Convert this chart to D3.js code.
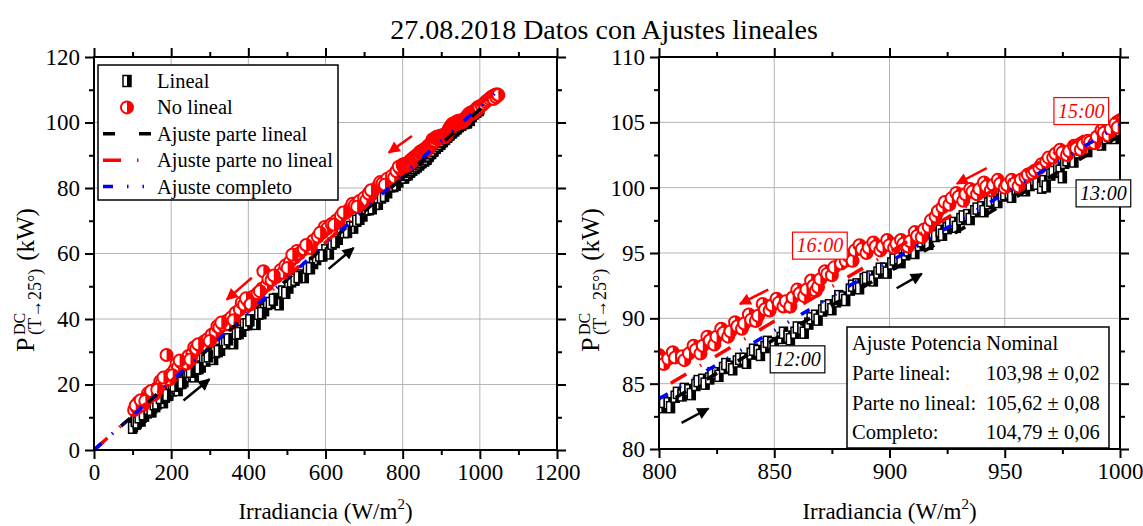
<!DOCTYPE html>
<html>
<head>
<meta charset="utf-8">
<script src="https://cdn.jsdelivr.net/npm/d3@7"></script>
<style>
  body { margin: 0; background: #fff; }
  svg text { font-family: "Liberation Serif", "Times New Roman", serif; fill: #000; }
</style>
</head>
<body>
<svg id="chart" width="1143" height="526"></svg>
<script>
// ---- data ----
// Lineal: irradiancia (W/m2) y potencia (kW)
var linealG = [102,105,109,110,114,119,122,125,131,135,138,145,150,152,160,165,168,176,180,185,194,198,203,213,218,223,233,240,244,255,260,266,278,284,290,302,310,315,328,335,341,355,362,369,383,390,397,412,420,427,442,450,457,473,480,489,505,512,521,537,545,553,569,577,585,601,610,617,633,641,649,665,673,681,697,705,713,729,737,745,761,769,777,790,
  100,107,112,117,128,141,148,156,163,172,189,208,228,250,272,296,322,348,376,404,435,465,497,529,561,593,625,657,689,721,753,783,
  801,802,804,805,807,808,810,811,813,814,816,817,819,820,822,823,825,826,828,829,831,832,834,835,837,838,840,841,843,844,846,847,849,850,853,854,856,857,859,860,862,863,865,866,868,869,871,872,874,875,877,878,880,881,883,884,886,887,889,890,892,893,895,896,898,899,901,902,904,905,907,908,910,911,913,914,916,917,919,920,922,923,925,926,928,929,931,932,934,935,937,938,940,941,943,944,946,947,949,950,952,953,955,956,958,959,961,962,963,964,966,967,968,970,971,973,974,975,976,977,979,980,982,983,985,986,988,989,991,992,994,995,997,998,1000];
var linealP = [7.3,8.2,8.0,9.5,9.0,9.2,9.0,10.2,10.5,12.2,11.5,11.9,11.8,13.0,13.4,15.6,14.6,15.0,14.6,16.3,16.9,18.5,18.2,18.9,18.3,20.4,21.0,23.0,22.6,23.2,22.5,24.8,25.5,27.9,27.3,28.0,27.8,29.9,30.6,32.8,32.6,33.4,32.6,35.5,36.4,38.3,38.4,39.5,38.5,41.6,42.7,44.6,44.9,46.1,44.5,48.4,49.6,51.5,52.0,53.3,52.8,55.6,57.1,58.3,59.4,61.0,60.0,63.0,64.5,66.8,66.5,68.1,67.9,70.0,71.6,73.4,73.5,75.1,75.2,77.1,78.7,80.5,80.6,82.0,
  6.8,8.9,8.4,10.0,10.9,12.6,12.3,14.0,14.2,15.9,16.8,19.6,20.5,23.9,25.0,28.6,30.2,33.8,35.7,39.6,41.8,45.9,48.0,52.8,55.5,59.4,63.5,66.6,70.6,73.8,77.6,81.0,
  83.2,83.6,83.5,83.2,84.0,84.3,84.1,84.6,84.5,84.2,84.9,85.2,85.3,85.0,85.4,85.8,85.8,85.6,86.2,86.5,86.3,86.1,86.7,86.9,86.9,86.6,87.3,87.6,87.5,87.2,87.8,88.2,88.1,87.9,88.5,88.9,88.6,88.4,88.9,89.3,89.2,88.9,89.6,90.0,90.2,89.9,90.6,90.9,91.0,90.7,91.3,91.7,91.6,91.4,92.2,92.5,92.6,92.3,93.0,93.1,93.2,92.9,93.5,93.8,93.8,93.5,94.2,94.5,94.6,94.3,94.9,95.2,95.3,95.0,95.6,95.9,96.0,95.7,96.5,96.3,96.7,96.4,96.9,97.2,97.3,97.0,97.6,97.8,97.9,97.6,98.2,98.4,98.5,98.2,98.8,99.0,99.1,98.9,99.4,99.5,99.6,99.3,99.9,100.0,100.1,99.8,100.2,100.9,100.6,100.3,100.0,100.5,100.1,101.0,101.2,101.5,101.3,100.8,101.9,102.1,102.3,102.0,102.7,102.9,103.0,102.8,103.4,103.5,103.6,103.3,103.8,104.0,104.1,103.8,104.3];

// No lineal
var noLinealG = [104,112,115,118,124,128,130,137,140,144,152,156,160,168,172,176,184,188,192,196,200,209,214,218,227,236,240,245,255,260,265,275,285,290,295,305,315,320,325,335,345,350,356,367,378,383,389,400,412,418,424,436,439,448,452,460,472,484,490,496,508,520,526,532,544,556,562,568,580,592,598,604,616,628,634,640,652,664,670,676,688,700,706,712,724,736,742,748,760,772,778,784,794,
  108,121,133,148,164,180,204,222,250,270,300,330,362,394,406,430,466,502,514,550,586,622,646,682,718,754,790,
  800,801,802,804,806,807,810,811,813,815,816,818,819,821,822,824,825,827,828,830,831,833,834,836,837,839,840,842,843,845,846,848,849,851,852,854,855,857,858,860,861,863,864,866,867,868,869,870,872,873,875,876,878,879,881,882,884,885,887,888,890,891,893,894,896,897,899,900,902,903,905,906,908,909,911,912,914,915,917,918,920,921,923,924,926,927,929,930,932,933,935,936,938,939,941,942,944,945,947,948,950,951,953,954,956,957,959,960,962,963,965,966,968,969,971,972,974,975,977,978,980,981,983,984,986,987,989,990,992,993,995,996,998,999,1005,1010,1015,1020,1025,1030,1035,1036,1040,1042,1045,1048];
var noLinealP = [12.2,12.8,14.6,13.9,14.0,13.8,15.2,15.6,17.3,16.8,17.5,16.9,18.6,19.3,21.0,20.5,21.2,29.0,22.4,21.6,23.2,24.5,26.3,25.3,26.6,27.4,26.4,28.7,29.5,31.4,30.9,31.8,33.1,32.1,33.9,35.2,36.0,37.8,37.4,38.2,39.5,38.3,40.5,41.9,42.9,45.0,44.4,45.3,46.8,46.0,47.9,49.3,54.6,50.4,52.2,51.9,52.8,55.0,54.1,56.3,57.5,58.8,60.8,60.0,61.3,62.5,61.7,63.9,65.1,66.4,68.1,67.6,69.0,70.1,69.6,71.5,72.4,73.8,75.2,74.7,76.0,77.0,76.3,78.3,79.2,80.5,81.8,81.5,82.8,83.7,83.2,85.1,85.9,
  13.6,15.2,15.0,18.0,18.4,22.1,22.8,27.3,27.6,32.3,33.3,38.9,39.6,46.3,44.5,48.5,53.3,55.6,59.6,62.6,66.3,68.8,72.5,74.3,79.3,81.0,86.5,
  87.2,86.8,86.5,86.9,87.4,87.0,87.1,86.8,87.3,87.9,87.6,87.3,87.9,88.6,88.3,88.0,88.6,89.2,88.9,88.6,89.0,89.7,89.4,89.2,89.6,90.3,89.9,89.8,90.2,91.1,90.7,90.6,91.0,91.5,91.2,90.9,91.3,90.9,91.6,92.2,91.9,91.7,92.2,92.9,92.5,92.1,92.4,93.0,93.6,93.4,93.3,93.9,94.9,94.2,94.4,94.8,94.4,95.2,95.6,95.3,95.0,95.4,95.8,95.5,95.2,95.5,96.0,95.6,95.4,95.7,96.0,95.7,95.5,95.9,96.6,96.3,96.2,96.8,97.0,97.5,97.8,98.2,98.5,98.9,98.7,99.2,99.6,99.3,99.0,99.5,99.9,99.7,99.5,99.9,100.4,100.1,99.8,100.2,100.6,100.3,100.0,100.2,100.6,100.3,100.1,100.6,100.8,101.0,101.1,101.3,101.5,101.8,102.0,102.3,102.3,102.6,102.9,102.7,102.5,102.8,103.2,103.0,102.9,103.3,103.6,103.5,103.4,103.9,104.4,104.2,104.0,104.5,104.9,104.6,105.2,105.7,106.3,106.8,107.3,107.8,108.2,107.2,108.5,107.8,108.6,108.4];

// ajustes: potencia nominal (kW a 1000 W/m2) e incertidumbre
var fitNames = ['Ajuste parte lineal', 'Ajuste parte no lineal', 'Ajuste completo'];
var fitValues = [103.98, 105.62, 104.79];
var fitErrors = [0.02, 0.08, 0.06];
var tableLabels = ['Parte lineal:', 'Parte no lineal:', 'Completo:'];

// anotaciones (coordenadas de datos del panel derecho)
var timeLabels = ['12:00', '13:00', '15:00', '16:00'];
var timeG = [860.1, 992.8, 983.2, 869.8];
var timeP = [86.9, 99.6, 105.9, 95.6];
var timeColor = ['black', 'black', 'red', 'red'];

var arrowsLeft = [
  { from: [824, 95.9], to: [764, 90.8], color: 'red' },
  { from: [409, 52.6], to: [344, 45.9], color: 'red' },
  { from: [608, 55.3], to: [673, 61.7], color: 'black' },
  { from: [232, 15.1], to: [299, 21.6], color: 'black' }
];
var arrowsRight = [
  { from: [942.2, 101.5], to: [929.2, 100.3], color: 'red' },
  { from: [847.4, 92.2], to: [835.1, 91.1], color: 'red' },
  { from: [903.1, 92.3], to: [914.0, 93.4], color: 'black' },
  { from: [809.8, 82.0], to: [821.4, 83.1], color: 'black' }
];

var lineal = linealG.map(function (g, i) { return { g: g, p: linealP[i] }; });
var noLineal = noLinealG.map(function (g, i) { return { g: g, p: noLinealP[i] }; });

var fitColors = ['#000000', '#ff0000', '#0000ff'];
var fitDash = ['12,24', '18,16,1.5,16', '10,14,1.5,14,1.5,14'];

var svg = d3.select('#chart');
var defs = svg.append('defs');

['red', 'black'].forEach(function (c) {
  defs.append('marker')
    .attr('id', 'arrow-' + c)
    .attr('viewBox', '0 0 10 10')
    .attr('refX', 9).attr('refY', 5)
    .attr('markerUnits', 'userSpaceOnUse')
    .attr('markerWidth', 14).attr('markerHeight', 12)
    .attr('orient', 'auto')
    .append('path')
    .attr('d', 'M0,0 L10,5 L0,10 z')
    .attr('fill', c === 'red' ? '#ff0000' : '#000');
});

// title
svg.append('text')
  .attr('x', 604).attr('y', 39)
  .attr('text-anchor', 'middle')
  .style('font-size', '28px')
  .text('27.08.2018 Datos con Ajustes lineales');

function drawSquare(sel) {
  sel.append('rect').attr('x', -4).attr('y', -5.5).attr('width', 8).attr('height', 11)
    .attr('fill', '#fff').attr('stroke', '#000').attr('stroke-width', 1.5);
  sel.append('rect').attr('x', 0).attr('y', -5.5).attr('width', 4).attr('height', 11)
    .attr('fill', '#000');
}

function drawCircle(sel) {
  sel.append('circle').attr('r', 6)
    .attr('fill', '#fff').attr('stroke', '#ff0000').attr('stroke-width', 2);
  sel.append('path').attr('d', 'M0,-6 A6,6 0 0 1 0,6 z').attr('fill', '#ff0000');
}

function panel(opt) {
  var x = d3.scaleLinear().domain(opt.xDomain).range([opt.left, opt.right]);
  var y = d3.scaleLinear().domain(opt.yDomain).range([opt.bottom, opt.top]);
  var g = svg.append('g');

  var clipId = 'clip-' + opt.name;
  defs.append('clipPath').attr('id', clipId)
    .append('rect')
    .attr('x', opt.left).attr('y', opt.top)
    .attr('width', opt.right - opt.left).attr('height', opt.bottom - opt.top);

  // grid
  var grid = g.append('g').attr('stroke', '#b4b4b4').attr('stroke-width', 1);
  grid.selectAll('.gx').data(opt.xMajor.slice(1, -1)).enter().append('line')
    .attr('x1', function (d) { return x(d); }).attr('x2', function (d) { return x(d); })
    .attr('y1', opt.top).attr('y2', opt.bottom);
  grid.selectAll('.gy').data(opt.yMajor.slice(1, -1)).enter().append('line')
    .attr('y1', function (d) { return y(d); }).attr('y2', function (d) { return y(d); })
    .attr('x1', opt.left).attr('x2', opt.right);

  var plot = g.append('g').attr('clip-path', 'url(#' + clipId + ')');

  plot.selectAll('.sq').data(lineal).enter().append('g')
    .attr('transform', function (d) { return 'translate(' + x(d.g) + ',' + y(d.p) + ')'; })
    .call(drawSquare);

  plot.selectAll('.ci').data(noLineal).enter().append('g')
    .attr('transform', function (d) { return 'translate(' + x(d.g) + ',' + y(d.p) + ')'; })
    .call(drawCircle);

  // fit lines P = Pnom * G / 1000
  fitValues.forEach(function (v, i) {
    var line = d3.line()
      .x(function (d) { return x(d); })
      .y(function (d) { return y(v * d / 1000); });
    plot.append('path')
      .datum([0, 1050])
      .attr('d', line)
      .attr('fill', 'none')
      .attr('stroke', fitColors[i])
      .attr('stroke-width', 3.5)
      .attr('stroke-dasharray', fitDash[i]);
  });

  // arrows
  opt.arrows.forEach(function (a) {
    g.append('line')
      .attr('x1', x(a.from[0])).attr('y1', y(a.from[1]))
      .attr('x2', x(a.to[0])).attr('y2', y(a.to[1]))
      .attr('stroke', a.color === 'red' ? '#ff0000' : '#000')
      .attr('stroke-width', 2.5)
      .attr('marker-end', 'url(#arrow-' + a.color + ')');
  });

  // frame
  g.append('rect')
    .attr('x', opt.left).attr('y', opt.top)
    .attr('width', opt.right - opt.left).attr('height', opt.bottom - opt.top)
    .attr('fill', 'none').attr('stroke', '#000').attr('stroke-width', 2);

  function ax(axisFn, scale, vals, size, labels, tr) {
    var a = axisFn(scale).tickValues(vals).tickSize(size).tickSizeOuter(0).tickPadding(5)
      .tickFormat(labels ? d3.format('d') : '');
    var s = g.append('g').attr('transform', tr).call(a);
    s.select('.domain').remove();
    s.selectAll('line').attr('stroke-width', 2);
    s.selectAll('text').style('font-size', '23px').style('font-family', '"Liberation Serif", serif');
    return s;
  }
  var b = 'translate(0,' + opt.bottom + ')', t = 'translate(0,' + opt.top + ')';
  var l = 'translate(' + opt.left + ',0)', r = 'translate(' + opt.right + ',0)';
  ax(d3.axisBottom, x, opt.xMajor, 9, true, b);
  ax(d3.axisBottom, x, opt.xMinor, 5, false, b);
  ax(d3.axisTop, x, opt.xMajor, 9, false, t);
  ax(d3.axisTop, x, opt.xMinor, 5, false, t);
  ax(d3.axisLeft, y, opt.yMajor, 9, true, l);
  ax(d3.axisLeft, y, opt.yMinor, 5, false, l);
  ax(d3.axisRight, y, opt.yMajor, 9, false, r);
  ax(d3.axisRight, y, opt.yMinor, 5, false, r);

  // x title
  var xt = g.append('text')
    .attr('x', (opt.left + opt.right) / 2).attr('y', 519)
    .attr('text-anchor', 'middle')
    .style('font-size', '23px');
  xt.append('tspan').text('Irradiancia (W/m');
  xt.append('tspan').attr('dy', -10).style('font-size', '15px').text('2');
  xt.append('tspan').attr('dy', 10).text(')');

  // y title, rotated
  var yt = g.append('g')
    .attr('transform', 'translate(' + (opt.left - 60) + ',352) rotate(-90)');
  yt.append('text').attr('x', 0).attr('y', 0).style('font-size', '26px').text('P');
  yt.append('text').attr('x', 17).attr('y', -9).style('font-size', '16px').text('DC');
  var sub = yt.append('text').attr('x', 17).attr('y', 7).style('font-size', '18px').text('(T\u219225\u00b0)');
  var sw = sub.node().getComputedTextLength();
  yt.append('text').attr('x', 17 + sw + 8).attr('y', 0).style('font-size', '25px').text('(kW)');

  return { x: x, y: y, g: g };
}

var left = panel({
  name: 'left', left: 94, right: 557, top: 57, bottom: 450,
  xDomain: [0, 1200], yDomain: [0, 120],
  xMajor: d3.range(0, 1201, 200), xMinor: d3.range(100, 1200, 200),
  yMajor: d3.range(0, 121, 20), yMinor: d3.range(10, 120, 20),
  arrows: arrowsLeft
});

var right = panel({
  name: 'right', left: 659, right: 1120, top: 57, bottom: 449,
  xDomain: [800, 1000], yDomain: [80, 110],
  xMajor: d3.range(800, 1001, 50), xMinor: d3.range(825, 1000, 50),
  yMajor: d3.range(80, 111, 5), yMinor: d3.range(82.5, 110, 5),
  arrows: arrowsRight
});

// legend (left panel)
var lg = svg.append('g');
lg.append('rect').attr('x', 98).attr('y', 65).attr('width', 240).attr('height', 135)
  .attr('fill', '#fff').attr('stroke', '#000').attr('stroke-width', 1.5);
var legendNames = ['Lineal', 'No lineal'].concat(fitNames);
legendNames.forEach(function (name, i) {
  var cy = 81 + i * 26.4;
  if (i === 0) lg.append('g').attr('transform', 'translate(127,' + cy + ')').call(drawSquare);
  else if (i === 1) lg.append('g').attr('transform', 'translate(127,' + cy + ')').call(drawCircle);
  else {
    lg.append('line').attr('x1', 103).attr('x2', 151).attr('y1', cy).attr('y2', cy)
      .attr('stroke', fitColors[i - 2]).attr('stroke-width', 3.5)
      .attr('stroke-dasharray', fitDash[i - 2]);
  }
  lg.append('text').attr('x', 157).attr('y', cy + 7).style('font-size', '20.5px').text(name);
});

// time labels (right panel)
var clipTL = right.g.append('g');
timeLabels.forEach(function (t, i) {
  var col = timeColor[i] === 'red' ? '#ff0000' : '#000';
  var cx = right.x(timeG[i]), cy = right.y(timeP[i]);
  var tg = clipTL.append('g');
  var txt = tg.append('text').attr('x', cx).attr('y', cy + 7)
    .attr('text-anchor', 'middle')
    .style('font-size', '20px').style('font-style', 'italic').style('fill', col)
    .text(t);
  var bb = txt.node().getBBox();
  tg.insert('rect', 'text')
    .attr('x', bb.x - 4).attr('y', cy - 13).attr('width', bb.width + 8).attr('height', 27)
    .attr('fill', '#fff').attr('stroke', col).attr('stroke-width', 1.2);
});

// table (right panel)
var tb = svg.append('g');
tb.append('rect').attr('x', 847).attr('y', 327).attr('width', 262).attr('height', 121)
  .attr('fill', '#fff').attr('stroke', '#000').attr('stroke-width', 1.5);
tb.append('text').attr('x', 852).attr('y', 350).style('font-size', '20.5px').text('Ajuste Potencia Nominal');
tableLabels.forEach(function (lab, i) {
  var yy = 380 + i * 29.5;
  tb.append('text').attr('x', 852).attr('y', yy).style('font-size', '20.5px').text(lab);
  tb.append('text').attr('x', 986).attr('y', yy).style('font-size', '20.5px')
    .text(fitValues[i].toFixed(2).replace('.', ',') + ' \u00b1 ' + fitErrors[i].toFixed(2).replace('.', ','));
});
</script>
</body>
</html>
